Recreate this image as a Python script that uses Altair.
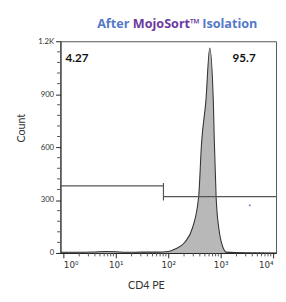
import altair as alt
import pandas as pd

# Histogram (CD4 PE intensity vs count)
cd4_pe = [0.88, 1.0, 2.0, 4.0, 6.3, 10.0, 15.8, 31.6, 63.0, 100.0, 135.0, 207.0,
          290.0, 380.0, 431.0, 521.0, 618.0, 724.0, 755.0, 818.0, 918.0, 1030.0,
          1138.0, 1259.0, 2000.0, 4000.0, 11368.0]
counts = [4, 4, 4, 6, 8, 7, 4, 5, 5, 8, 22, 61,
          143, 319, 620, 859, 1162, 859, 639, 319, 143, 61,
          22, 5, 2, 1, 0]

# Gates
gate_x = [0.88, 81.0, 81.0]
gate_x2 = [81.0, 81.0, 11368.0]
gate_y = [380, 297, 319]
gate_y2 = [380, 396, 319]

# Gate percentages
pct_text = ["4.27", "95.7"]
pct_x = [1.1, 4640.0]
pct_y = [1106, 1106]

# Stray event
dot_x = [3590.0]
dot_y = [270]

# Title pieces
title_parts = ["After", "MojoSort\u2122", "Isolation"]
title_colors = ["#5479c9", "#6b3a9e", "#5479c9"]

y_major = [0, 300, 600, 900, 1200]
y_minor = [v for v in range(0, 1201, 60) if v % 300 != 0]
x_major = [1, 10, 100, 1000, 10000]
x_minor = [m * d for d in [1, 10, 100, 1000] for m in range(2, 10)]

XDOM = [0.88, 11368]
YDOM = [0, 1200]
FONT = "Lato"
H = 218

hist = pd.DataFrame({"x": cd4_pe, "c": counts})
xs = alt.Scale(type="log", domain=XDOM, nice=False)
ys = alt.Scale(domain=YDOM, nice=False)

area = alt.Chart(hist).mark_area(
    interpolate="monotone", color="#9a9a9a", line={"color": "#333333", "strokeWidth": 1.1},
    clip=True
).encode(
    x=alt.X("x:Q", scale=xs, title="CD4 PE",
            axis=alt.Axis(values=x_major, tickSize=5, domain=True, domainColor="#222",
                          tickColor="#222", grid=False, labelFont="DejaVu Sans", labelFontSize=9,
                          labelColor="#333", labelPadding=3, labelFlush=5,
                          labelExpr="'10' + ['\u2070','\u00b9','\u00b2','\u00b3','\u2074'][round(log(datum.value)/LN10)]",
                          titleFont=FONT, titleFontSize=11, titleFontWeight="normal",
                          titleColor="#333", titleX=88, titleY=34, titleBaseline="middle")),
    y=alt.Y("c:Q", scale=ys, title="Count",
            axis=alt.Axis(values=y_major, tickSize=5, domain=True, domainColor="#222",
                          tickColor="#222", grid=False, labelFont=FONT, labelFontSize=8,
                          labelColor="#333", labelPadding=2,
                          labelExpr="datum.value == 1200 ? '1.2K' : datum.label",
                          titleFont=FONT, titleFontSize=11, titleFontWeight="normal",
                          titleColor="#333", titleX=-40, titleY=89, titleBaseline="middle")),
)

gates = pd.DataFrame({"x": gate_x, "x2": gate_x2, "y": gate_y, "y2": gate_y2})
gate_layer = alt.Chart(gates).mark_rule(color="#555555", strokeWidth=1.2, clip=True).encode(
    x=alt.X("x:Q", scale=xs), x2="x2:Q",
    y=alt.Y("y:Q", scale=ys), y2="y2:Q",
)

# minor ticks along the axes
xminor = alt.Chart(pd.DataFrame({"x": x_minor})).mark_rule(
    color="#555555", strokeWidth=1
).encode(x=alt.X("x:Q", scale=xs), y=alt.value(H), y2=alt.value(H + 3.5))
yminor = alt.Chart(pd.DataFrame({"y": y_minor})).mark_rule(
    color="#555555", strokeWidth=1
).encode(y=alt.Y("y:Q", scale=ys), x=alt.value(-3.5), x2=alt.value(0))

pct = pd.DataFrame({"t": pct_text, "x": pct_x, "y": pct_y})
pct_left = alt.Chart(pct.iloc[[0]]).mark_text(
    align="left", baseline="middle", font=FONT, fontSize=12, fontWeight="bold", color="#111"
).encode(x=alt.X("x:Q", scale=xs), y=alt.Y("y:Q", scale=ys), text="t:N")
pct_right = alt.Chart(pct.iloc[[1]]).mark_text(
    align="right", baseline="middle", font=FONT, fontSize=12, fontWeight="bold", color="#111"
).encode(x=alt.X("x:Q", scale=xs), y=alt.Y("y:Q", scale=ys), text="t:N")

dots = alt.Chart(pd.DataFrame({"x": dot_x, "y": dot_y})).mark_point(
    filled=True, size=5, color="#6a6ad0", opacity=0.8
).encode(x=alt.X("x:Q", scale=xs), y=alt.Y("y:Q", scale=ys))

TF = "Open Sans"
tdf = pd.DataFrame({"t": title_parts, "c": title_colors})
t1 = alt.Chart(tdf.iloc[[0]]).mark_text(align="right", baseline="middle", font=TF,
                                        fontSize=13, fontWeight="bold").encode(
    x=alt.value(71), y=alt.value(-18), text="t:N", color=alt.Color("c:N", scale=None))
t2 = alt.Chart(tdf.iloc[[1]]).mark_text(align="center", baseline="middle", font=TF,
                                        fontSize=13, fontWeight="bold").encode(
    x=alt.value(109), y=alt.value(-18), text="t:N", color=alt.Color("c:N", scale=None))
t3 = alt.Chart(tdf.iloc[[2]]).mark_text(align="left", baseline="middle", font=TF,
                                        fontSize=13, fontWeight="bold").encode(
    x=alt.value(146), y=alt.value(-18), text="t:N", color=alt.Color("c:N", scale=None))

chart = alt.layer(area, gate_layer, xminor, yminor, pct_left, pct_right, dots, t1, t2, t3).properties(
    width=222, height=H, autosize="none",
    padding={"left": 54, "top": 30, "right": 2, "bottom": 38},
    background="white",
).configure_view(stroke="#555555", strokeWidth=1)

chart.save("out.html", embed_options={"renderer": "svg", "actions": False})
